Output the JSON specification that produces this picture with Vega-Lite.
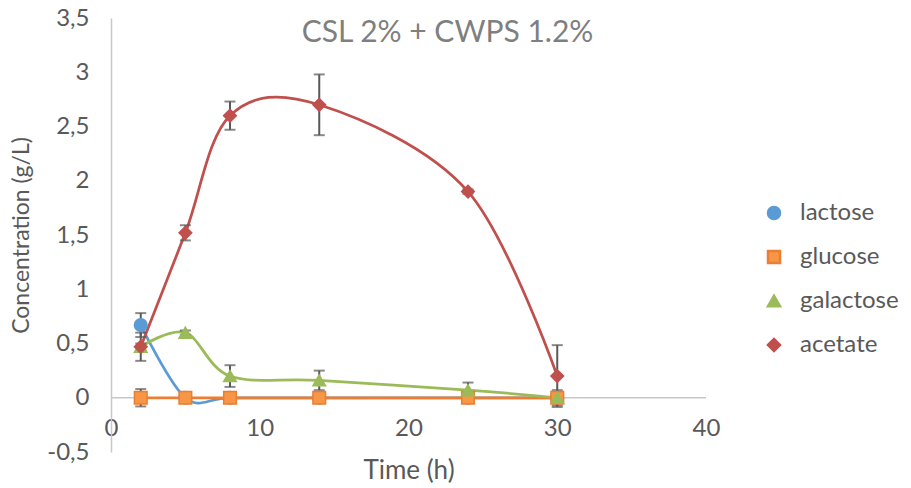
{
  "$schema": "https://vega.github.io/schema/vega-lite/v6.json",
  "width": 595,
  "height": 434,
  "autosize": {"type": "none"},
  "padding": {"left": 111, "top": 18, "right": 205, "bottom": 36},
  "background": "white",
  "title": {"text": "CSL 2% + CWPS 1.2%", "font": "Lato", "fontSize": 30, "fontWeight": "normal", "color": "#7f7f7f", "anchor": "middle", "dx": 39, "offset": -66, "baseline": "alphabetic"},
  "config": {
    "font": "Lato",
    "view": {"stroke": null},
    "axis": {"grid": false, "labelFont": "Lato", "titleFont": "Lato", "labelColor": "#595959", "titleColor": "#595959", "labelFontSize": 24, "titleFontSize": 23, "titleFontWeight": "normal", "ticks": false, "tickSize": 0, "labelFlush": false}
  },
  "data": {"values": [
    {"series": "lactose", "t": 2, "v": 0.67, "err": 0.11},
    {"series": "lactose", "t": 5, "v": 0, "err": 0},
    {"series": "lactose", "t": 8, "v": 0, "err": 0},
    {"series": "lactose", "t": 14, "v": 0, "err": 0},
    {"series": "lactose", "t": 24, "v": 0, "err": 0},
    {"series": "lactose", "t": 30, "v": 0, "err": 0},
    {"series": "glucose", "t": 2, "v": 0, "err": 0.08},
    {"series": "glucose", "t": 5, "v": 0, "err": 0},
    {"series": "glucose", "t": 8, "v": 0, "err": 0},
    {"series": "glucose", "t": 14, "v": 0, "err": 0},
    {"series": "glucose", "t": 24, "v": 0, "err": 0},
    {"series": "glucose", "t": 30, "v": 0, "err": 0},
    {"series": "galactose", "t": 2, "v": 0.47, "err": 0.03},
    {"series": "galactose", "t": 5, "v": 0.6, "err": 0.02},
    {"series": "galactose", "t": 8, "v": 0.2, "err": 0.1},
    {"series": "galactose", "t": 14, "v": 0.16, "err": 0.09},
    {"series": "galactose", "t": 24, "v": 0.07, "err": 0.07},
    {"series": "galactose", "t": 30, "v": 0, "err": 0.07},
    {"series": "acetate", "t": 2, "v": 0.47, "err": 0.13},
    {"series": "acetate", "t": 5, "v": 1.52, "err": 0.07},
    {"series": "acetate", "t": 8, "v": 2.6, "err": 0.13},
    {"series": "acetate", "t": 14, "v": 2.7, "err": 0.28},
    {"series": "acetate", "t": 24, "v": 1.9, "err": 0.02},
    {"series": "acetate", "t": 30, "v": 0.2, "err": 0.285}
  ]},
  "layer": [
    {
      "transform": [{"filter": "datum.err < 0"}],
      "mark": {"type": "point", "filled": true, "size": 144, "opacity": 1},
      "encoding": {
        "fill": {"field": "series", "type": "nominal", "scale": {"domain": ["lactose", "glucose", "galactose", "acetate"], "range": ["#5b9bd5", "#f79646", "#9bbb59", "#c0504d"]},
          "legend": {"title": null, "orient": "none", "legendX": 633, "legendY": 183, "padding": 0, "symbolSize": 144, "symbolStrokeWidth": 2.5, "symbolOffset": 18, "labelOffset": 14, "rowPadding": 20, "labelFont": "Lato", "labelFontSize": 24, "labelColor": "#595959",
            "encode": {"symbols": {"update": {
              "shape": {"signal": "datum.value === 'lactose' ? 'M-3,0H-1M1,0H3M-1,0A1,1 0 1,0 1,0A1,1 0 1,0 -1,0Z' : datum.value === 'glucose' ? 'M-3,0H-1M1,0H3M-1,-1H1V1H-1Z' : datum.value === 'galactose' ? 'M-3,0H-0.6M0.6,0H3M0,-1.1L1.1,0.8H-1.1Z' : 'M-3,0H-1M1,0H3M0,-1L1,0L0,1L-1,0Z'"},
              "stroke": {"signal": "scale('stroke', datum.value)"},
              "strokeWidth": {"value": 2.5},
              "opacity": {"value": 1}
            }}}}},
        "stroke": {"field": "series", "type": "nominal"},
        "shape": {"field": "series", "type": "nominal"}
      }
    },
    {
      "data": {"values": [{"zero": 0}]},
      "mark": {"type": "rule", "color": "#c8c8c8", "strokeWidth": 1.5},
      "encoding": {
        "y": {"field": "zero", "type": "quantitative", "title": "Concentration (g/L)", "scale": {"domain": [-0.5, 3.5], "nice": false, "zero": false},
          "axis": {"title": "Concentration (g/L)", "values": [-0.5, 0, 0.5, 1, 1.5, 2, 2.5, 3, 3.5], "labelExpr": "replace(toString(datum.value), '.', ',')", "domain": true, "domainColor": "#c8c8c8", "domainWidth": 1.5, "labelPadding": 22, "titlePadding": 13}}
      }
    },
    {
      "mark": {"type": "line", "interpolate": "cardinal", "strokeWidth": 2.75},
      "encoding": {
        "x": {"field": "t", "type": "quantitative", "title": "Time (h)", "scale": {"domain": [0, 40], "nice": false},
          "axis": {"title": "Time (h)", "titleFontSize": 26, "values": [0, 10, 20, 30, 40], "domain": false, "labelBaseline": "middle", "labelPadding": -24, "titlePadding": 5}},
        "y": {"field": "v", "type": "quantitative", "title": "Concentration (g/L)"},
        "stroke": {"field": "series", "type": "nominal", "scale": {"domain": ["lactose", "glucose", "galactose", "acetate"], "range": ["#5b9bd5", "#ed7d31", "#9bbb59", "#c0504d"]}}
      }
    },
    {
      "transform": [{"filter": "datum.err > 0"}],
      "mark": {"type": "errorbar", "ticks": {"size": 11, "thickness": 2, "color": "#595959"}, "rule": {"strokeWidth": 2, "color": "#595959"}},
      "encoding": {
        "x": {"field": "t", "type": "quantitative", "title": "Time (h)"},
        "y": {"field": "v", "type": "quantitative", "title": "Concentration (g/L)"},
        "yError": {"field": "err"}
      }
    },
    {
      "mark": {"type": "point", "filled": true, "size": 160, "strokeWidth": 1.5, "opacity": 1},
      "encoding": {
        "x": {"field": "t", "type": "quantitative", "title": "Time (h)"},
        "y": {"field": "v", "type": "quantitative", "title": "Concentration (g/L)"},
        "shape": {"field": "series", "type": "nominal", "scale": {"domain": ["lactose", "glucose", "galactose", "acetate"], "range": ["circle", "square", "triangle-up", "diamond"]}},
        "stroke": {"field": "series", "type": "nominal"},
        "fill": {"field": "series", "type": "nominal"}
      }
    }
  ]
}
